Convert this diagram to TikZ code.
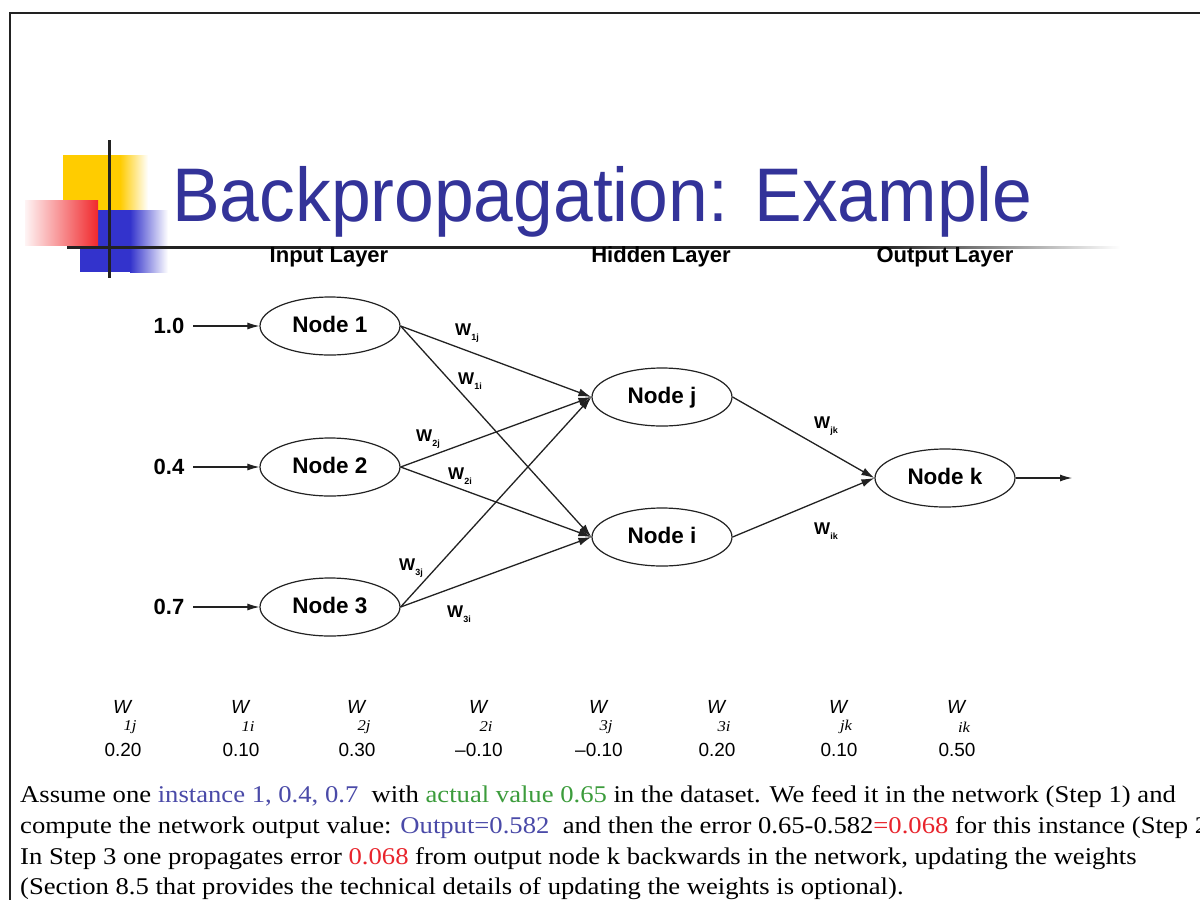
\documentclass[tikz,border=0pt]{standalone}
\usepackage{fontspec}
\setmainfont[FakeStretch=1.11]{Liberation Serif}
\newfontfamily\arialfont{Liberation Sans}
\newfontfamily\titlefont[FakeStretch=0.94]{Liberation Sans}
\usetikzlibrary{arrows.meta,shapes.geometric}
\definecolor{ttblue}{HTML}{333399}
\definecolor{txblue}{HTML}{4A4AA8}
\definecolor{txgreen}{HTML}{3C9C3C}
\definecolor{txred}{HTML}{E8242C}
\definecolor{logoyel}{HTML}{FFCC00}
\definecolor{logored}{HTML}{F0282C}
\definecolor{logoblue}{HTML}{3333CC}
\definecolor{ink}{HTML}{222222}
\newcommand{\wsub}[1]{W\raisebox{-5pt}{\fontsize{9}{9}\selectfont #1}}
\tikzset{
  unit/.style={draw=ink, ellipse, line width=1.2pt, minimum width=140pt, minimum height=58pt,
    inner sep=0pt, text height=16pt, text depth=4pt, font=\arialfont\bfseries\fontsize{22.5}{22.5}\selectfont},
  hdr/.style={anchor=base, inner sep=0pt, font=\arialfont\bfseries\fontsize{22}{22}\selectfont},
  val/.style={inner sep=9pt, font=\arialfont\bfseries\fontsize{22}{22}\selectfont},
  wire/.style={ink, line width=1.3pt, -{Latex[length=13pt,width=8pt]}},
  feed/.style={ink, line width=1.1pt, -{Latex[length=12pt,width=7pt]}},
  wlab/.style={inner sep=0pt, font=\arialfont\bfseries\fontsize{17}{17}\selectfont},
  tw/.style={inner sep=0pt, font=\arialfont\itshape\fontsize{19}{19}\selectfont},
  ts/.style={inner sep=0pt, font=\itshape\fontsize{15}{15}\selectfont},
  tv/.style={inner sep=0pt, font=\arialfont\fontsize{19}{19}\selectfont},
  para/.style={anchor=base west, inner sep=0pt, font=\fontsize{24}{24}\selectfont}
}
\begin{document}
\begin{tikzpicture}[x=1pt, y=-1pt]
  \useasboundingbox (0,0) rectangle (1200,900);
  \clip (0,0) rectangle (1200,900);
  \fill[white] (0,0) rectangle (1200,900);
  \draw[ink, line width=2.5pt] (10,900) -- (10,13) -- (1200,13);
  \fill[logoyel] (63,155) rectangle (120,212);
  \shade[left color=logoyel, right color=white] (120,155) rectangle (148,212);
  \fill[logoblue] (80,210) rectangle (130,272);
  \shade[left color=logoblue, right color=white] (130,210) rectangle (168,272);
  \shade[left color=logored!5, right color=logored] (25,200) rectangle (98,245);
  \draw[ink, line width=3pt] (109,140) -- (109,278);
  \fill[ink] (67,246) rectangle (880,248.5);
  \shade[left color=ink, right color=white] (880,246) rectangle (1120,248.5);
  \node[anchor=base west, inner sep=0pt, text=ttblue, font=\titlefont\fontsize{76}{76}\selectfont]
    (title) at (172,221) {Backpropagation: Example};
  \node[hdr] (hin) at (329,262) {Input Layer};
  \node[hdr] (hhid) at (661,262) {Hidden Layer};
  \node[hdr] (hout) at (945,262) {Output Layer};
  \node[unit] (n1) at (330,326) {Node 1};
  \node[unit] (n2) at (330,467) {Node 2};
  \node[unit] (n3) at (330,607) {Node 3};
  \node[unit] (nj) at (662,397) {Node j};
  \node[unit] (ni) at (662,537) {Node i};
  \node[unit] (nk) at (945,478) {Node k};
  \node[val] (x1) at (169,326) {1.0};
  \node[val] (x2) at (169,467) {0.4};
  \node[val] (x3) at (169,607) {0.7};
  \coordinate (out) at (1072,478);
  \foreach \s in {1,2,3} \draw[feed] (x\s) -- (n\s.west);
  \foreach \s in {1,2,3} \foreach \t in {j,i} \draw[wire] (n\s.east) -- (n\t.west);
  \draw[wire] (nj.east) -- (nk.west);
  \draw[wire] (ni.east) -- (nk.west);
  \draw[feed] (nk.east) -- (out);
  \node[wlab] (l1j) at (467,333) {\wsub{1j}};
  \node[wlab] (l1i) at (470,381) {\wsub{1i}};
  \node[wlab] (l2j) at (428,439) {\wsub{2j}};
  \node[wlab] (l2i) at (460,476) {\wsub{2i}};
  \node[wlab] (l3j) at (411,568) {\wsub{3j}};
  \node[wlab] (l3i) at (459,614) {\wsub{3i}};
  \node[wlab] (ljk) at (826,426) {\wsub{jk}};
  \node[wlab] (lik) at (826,531) {\wsub{ik}};
  \foreach \x/\s/\v [count=\c] in {122/1j/0.20, 240/1i/0.10, 356/2j/0.30, 478/2i/–0.10,
      598/3j/–0.10, 716/3i/0.20, 838/jk/0.10, 956/ik/0.50} {
    \node[tw] (tw\c) at (\x,707) {W};
    \node[ts] (ts\c) at (\x+8,727) {\s};
    \node[tv] (tv\c) at (\x+1,750) {\v};
  }
  \node[para] (p1) at (20,802) {Assume one \textcolor{txblue}{instance 1, 0.4, 0.7}\ \ with \textcolor{txgreen}{actual value 0.65} in the dataset. We feed it in the network (Step 1) and};
  \node[para] (p2) at (20,833) {compute the network output value: \textcolor{txblue}{Output=0.582}\ \ and then the error 0.65-0.582\textcolor{txred}{=0.068} for this instance (Step 2};
  \node[para] (p3) at (20,864) {In Step 3 one propagates error \textcolor{txred}{0.068} from output node k backwards in the network, updating the weights};
  \node[para] (p4) at (20,894) {(Section 8.5 that provides the technical details of updating the weights is optional).};
\end{tikzpicture}
\end{document}
